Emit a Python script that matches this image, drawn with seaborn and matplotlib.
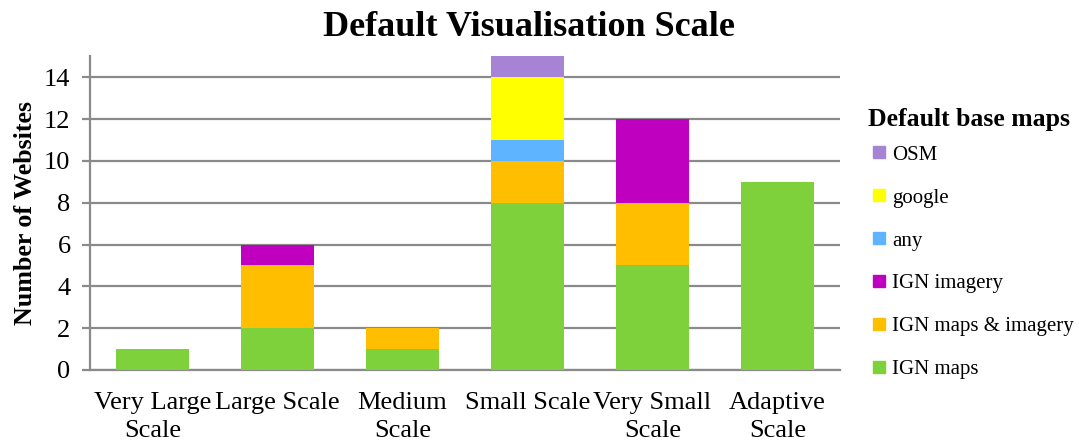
import matplotlib
matplotlib.use("Agg")
import matplotlib.pyplot as plt
from matplotlib.lines import Line2D
import numpy as np
import pandas as pd
import seaborn as sns

categories = ["Very Large\nScale", "Large Scale", "Medium\nScale",
              "Small Scale", "Very Small\nScale", "Adaptive\nScale"]
ign_maps = [1, 2, 1, 8, 5, 9]
ign_maps_imagery = [0, 3, 1, 2, 3, 0]
ign_imagery = [0, 1, 0, 0, 4, 0]
any_map = [0, 0, 0, 1, 0, 0]
google = [0, 0, 0, 3, 0, 0]
osm = [0, 0, 0, 1, 0, 0]

# stacking order, bottom to top
series = [
    ("IGN maps", ign_maps, "#7fd13b"),
    ("IGN maps & imagery", ign_maps_imagery, "#ffbe00"),
    ("IGN imagery", ign_imagery, "#c000bf"),
    ("any", any_map, "#5fb4ff"),
    ("google", google, "#ffff00"),
    ("OSM", osm, "#a783d6"),
]

sns.set_theme(style="white")
plt.rcParams["font.family"] = ["Liberation Serif", "DejaVu Serif"]
plt.rcParams["text.color"] = "black"
plt.rcParams["axes.labelcolor"] = "black"
plt.rcParams["xtick.color"] = "black"
plt.rcParams["ytick.color"] = "black"

fig = plt.figure(figsize=(10.79, 4.41), dpi=100)
ax = fig.add_axes([0.0834, 0.161, 0.695, 0.711])

# cumulative totals, drawn tallest first so each layer sits on the one below
cum = np.cumsum(np.array([s[1] for s in series]), axis=0)
for i in range(len(series) - 1, -1, -1):
    name, _, color = series[i]
    df = pd.DataFrame({"scale": categories, "value": cum[i]})
    sns.barplot(data=df, x="scale", y="value", order=categories, color=color,
                width=0.58, saturation=1, linewidth=0, ax=ax, zorder=3)

ax.set_xlim(-0.5, 5.5)
ax.set_ylim(0, 15)
ax.set_yticks(range(0, 15, 2))
ax.yaxis.grid(True, color="#8a8a8a", linewidth=1.6, zorder=0)
ax.set_axisbelow(True)

for side in ["top", "right"]:
    ax.spines[side].set_visible(False)
for side in ["left", "bottom"]:
    ax.spines[side].set_color("#8a8a8a")
    ax.spines[side].set_linewidth(1.6)

ax.tick_params(axis="y", which="both", left=True, length=6, width=1.6,
               color="#8a8a8a", labelcolor="black", labelsize=19, pad=8)
ax.tick_params(axis="x", bottom=False, labelsize=19, pad=10,
               labelcolor="black")
for lab in ax.get_xticklabels():
    lab.set_linespacing(1.32)

ax.set_xlabel("")
ax.set_ylabel("Number of Websites", fontsize=18.7, fontweight="bold",
              labelpad=5)
fig.suptitle("Default Visualisation Scale", fontsize=26, fontweight="bold",
             x=0.49, y=0.975)

handles = [Line2D([], [], marker="s", linestyle="none", markersize=8,
                  markerfacecolor=c, markeredgecolor=c, label=n)
           for n, _, c in reversed(series)]
leg = fig.legend(handles=handles, loc="upper left",
                 bbox_to_anchor=(0.787, 0.797), frameon=False,
                 title="Default base maps", fontsize=15,
                 title_fontproperties={"weight": "bold", "size": 18.5},
                 labelspacing=1.12, handletextpad=0.05, handlelength=1.1,
                 alignment="left")
leg._legend_box.sep = 10

fig.savefig("out.png", dpi=100)
